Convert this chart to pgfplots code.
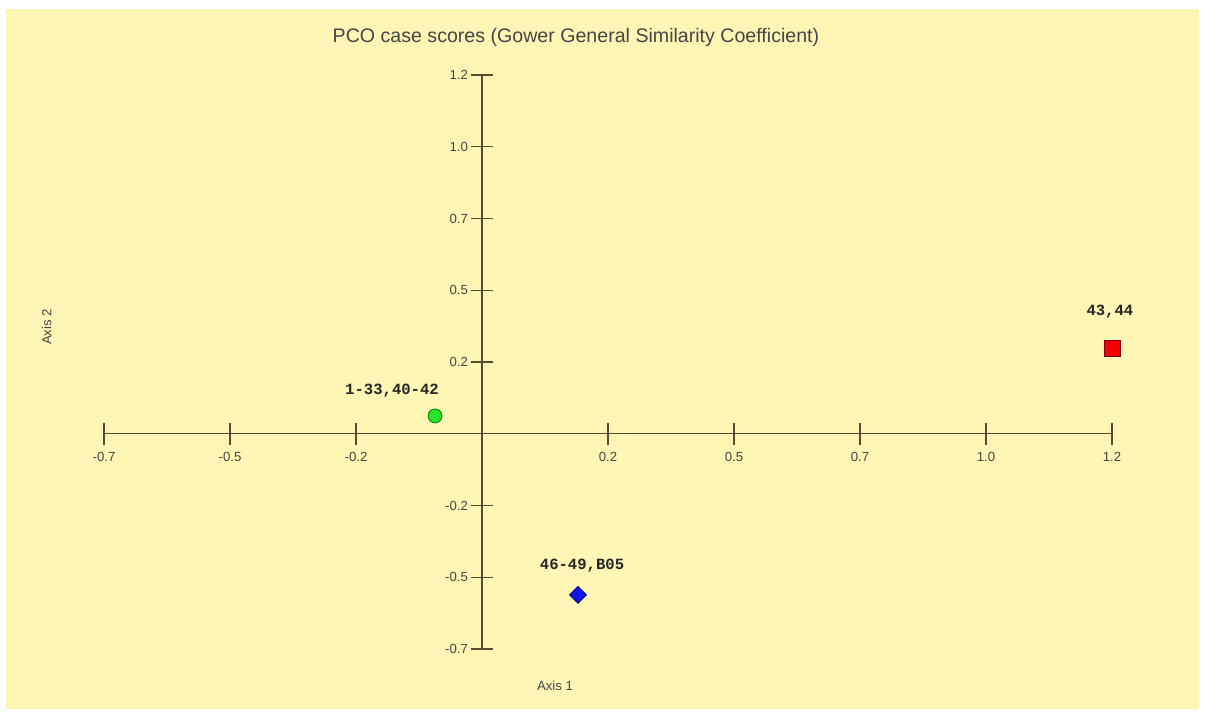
\documentclass[border=0pt]{standalone}
\usepackage{pgfplots}
\pgfplotsset{compat=1.18}
\usepackage{fontspec}
\setmainfont{Liberation Sans}
\newfontfamily\labfont{Liberation Mono}
\usetikzlibrary{backgrounds}
\definecolor{bgyellow}{RGB}{255,245,180}
\definecolor{axcol}{RGB}{90,75,48}
\definecolor{txtcol}{RGB}{70,70,70}
\definecolor{ptgreen}{RGB}{40,225,40}
\definecolor{ptred}{RGB}{245,0,0}
\definecolor{ptblue}{RGB}{20,20,230}
\begin{document}
\begin{tikzpicture}
\begin{axis}[
  scale only axis, width=504pt, height=287pt,
  xmin=-0.72, xmax=1.2, ymin=-0.72, ymax=1.2,
  axis lines=middle, axis line style={axcol, line width=0.7pt, -},
  clip=false,
  xtick={-0.72,-0.48,-0.24,0.24,0.48,0.72,0.96,1.2},
  xticklabels={-0.7,-0.5,-0.2,0.2,0.5,0.7,1.0,1.2},
  ytick={-0.72,-0.48,-0.24,0.24,0.48,0.72,0.96,1.2},
  yticklabels={-0.7,-0.5,-0.2,0.2,0.5,0.7,1.0,1.2},
  tick align=center, major tick length=11pt,
  tick style={axcol, line width=0.7pt},
  ticklabel style={font=\fontsize{6.6}{7}\selectfont, text=txtcol},
  xticklabel style={anchor=north, yshift=0pt},
  yticklabel style={anchor=east, xshift=2pt},
]
\addplot[only marks, mark=*, mark size=3.5pt, mark options={fill=ptgreen, draw=green!50!black, line width=0.4pt}] coordinates {(-0.0895,0.0595)};
\addplot[only marks, mark=square*, mark size=4pt, mark options={fill=ptred, draw=red!50!black, line width=0.5pt}] coordinates {(1.2,0.2836)};
\addplot[only marks, mark=square*, mark size=3pt, mark options={fill=ptblue, draw=blue!50!black, line width=0.4pt, rotate=45}] coordinates {(0.1829,-0.539)};
\node[font=\labfont\bfseries\fontsize{7.8}{8}\selectfont, text=black!85] at (axis cs:-0.1714,0.1433) {1-33,40-42};
\node[font=\labfont\bfseries\fontsize{7.8}{8}\selectfont, text=black!85] at (axis cs:1.196,0.407) {43,44};
\node[font=\labfont\bfseries\fontsize{7.8}{8}\selectfont, text=black!85] at (axis cs:0.1905,-0.44) {46-49,B05};
\node[font=\fontsize{9.8}{11}\selectfont, text=txtcol] at (axis cs:0.179,1.327) {PCO case scores (Gower General Similarity Coefficient)};
\node[font=\fontsize{6.6}{7}\selectfont, text=txtcol, rotate=90] at (axis cs:-0.829,0.357) {Axis 2};
\node[font=\fontsize{6.6}{7}\selectfont, text=txtcol] at (axis cs:0.139,-0.8435) {Axis 1};
\coordinate (bgA) at (axis cs:-0.9181,-0.9338);
\coordinate (bgB) at (axis cs:1.3771,1.4508);
\coordinate (yA) at (axis cs:-0.9067,-0.9204);
\coordinate (yB) at (axis cs:1.3657,1.4207);
\end{axis}
\begin{scope}[on background layer]
\fill[white] (bgA) rectangle (bgB);
\fill[bgyellow] (yA) rectangle (yB);
\end{scope}
\pgfresetboundingbox
\useasboundingbox (bgA) rectangle (bgB);
\end{tikzpicture}
\end{document}
